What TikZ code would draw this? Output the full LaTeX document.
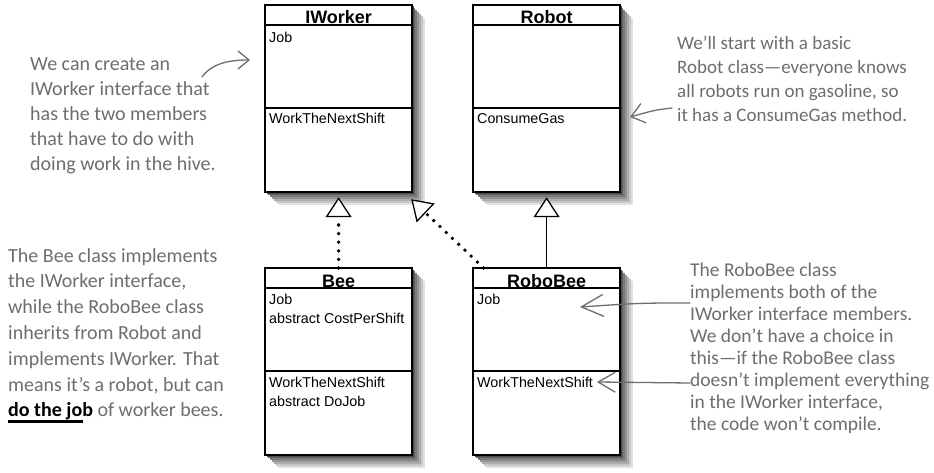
\documentclass[tikz,border=0pt]{standalone}
\usepackage{fontspec}
\setmainfont{Liberation Sans}
\newfontfamily\handfont{Carlito}
\usetikzlibrary{arrows.meta}

\definecolor{notegray}{RGB}{110,110,110}
\newcommand{\handunder}[1]{\setbox0\hbox{#1}\rlap{\rule[-6pt]{0.88\wd0}{2.4pt}}\box0}

\tikzset{
  umlbox/.style={draw, fill=white, line width=1.2pt, minimum width=146pt, minimum height=186pt,
    anchor=north west, inner sep=0pt},
  umltitle/.style={font=\fontsize{18}{20}\selectfont\bfseries, anchor=base, inner sep=0pt},
  umlmember/.style={font=\fontsize{14.3}{19}\selectfont, align=left, anchor=north west, inner sep=0pt},
  note/.style={font=\handfont\fontsize{20}{25}\selectfont, text=notegray, align=left,
    anchor=north west, inner sep=0pt},
  notearrow/.style={draw=notegray, line width=1.3pt, line cap=round},
  realize/.style={line width=3.8pt, dash pattern=on 0pt off 8.6pt, line cap=round,
    -{Triangle[open, fill=white, length=20pt, width=26pt, line width=1.3pt]}},
  inherit/.style={line width=1.7pt,
    -{Triangle[open, fill=white, length=20pt, width=26pt, line width=1.3pt]}}
}

\begin{document}
\begin{tikzpicture}[x=1pt, y=-1pt]
  \fill[white] (0,0) rectangle (934,473);

  % class boxes, with a soft shadow on the right and below
  \foreach \n/\px/\py/\t in {iworker/265/5/IWorker, robot/473/5/Robot,
                             bee/265/268/Bee, robobee/473/268/RoboBee}{
    \node[umlbox] (\n) at (\px,\py) {};
    \foreach \s/\g in {13/12, 11/22, 9/32, 7/42, 5/52, 3/62, 1.5/70}{
      \fill[black!\g!white] ([shift={(0pt,-\s pt)}]\n.north east) rectangle ([shift={(\s pt,-\s pt)}]\n.south east);
      \fill[black!\g!white] ([shift={(\s pt,0pt)}]\n.south west) rectangle ([shift={(\s pt,-\s pt)}]\n.south east);
    }
    \draw[line width=1.2pt] (\n.north west) rectangle (\n.south east);
    \draw[line width=1.2pt] ([yshift=-20pt]\n.north west) -- ([yshift=-20pt]\n.north east);
    \draw[line width=1.2pt] ([yshift=-103pt]\n.north west) -- ([yshift=-103pt]\n.north east);
    \node[umltitle] (\n-title) at ([yshift=-19pt]\n.north) {\t};
  }

  % members
  \node[umlmember] (iworker-fields) at ([shift={(4pt,-27pt)}]iworker.north west) {Job};
  \node[umlmember] (iworker-methods) at ([shift={(4pt,-108pt)}]iworker.north west) {WorkTheNextShift};
  \node[umlmember] (robot-methods) at ([shift={(4pt,-108pt)}]robot.north west) {ConsumeGas};
  \node[umlmember] (bee-fields) at ([shift={(4pt,-26pt)}]bee.north west) {Job\\abstract CostPerShift};
  \node[umlmember] (bee-methods) at ([shift={(4pt,-109pt)}]bee.north west) {WorkTheNextShift\\abstract DoJob};
  \node[umlmember] (robobee-fields) at ([shift={(4pt,-26pt)}]robobee.north west) {Job};
  \node[umlmember] (robobee-methods) at ([shift={(4pt,-109pt)}]robobee.north west) {WorkTheNextShift};

  % relations
  \draw[realize] (bee.north) -- ([yshift=-5pt]iworker.south);
  \draw[realize] ([xshift=-63pt]robobee.north) -- ([shift={(-1pt,-7pt)}]iworker.south east);
  \draw[inherit] (robobee.north) -- ([yshift=-5pt]robot.south);

  % notes
  \node[note] (iworker-note) at (30,57) {We can create an\\IWorker interface that\\has the two members\\that have to do with\\doing work in the hive.};
  \node[note, font=\handfont\fontsize{20}{25.8}\selectfont] (bee-note) at (8,248) {The Bee class implements\\the IWorker interface,\\while the RoboBee class\\inherits from Robot and\\implements IWorker. That\\means it’s a robot, but can\\\textcolor{black}{\bfseries\handunder{do the job}} of worker bees.};
  \node[note, font=\handfont\fontsize{19}{24}\selectfont] (robot-note) at (677,36) {We’ll start with a basic\\Robot class—everyone knows\\all robots run on gasoline, so\\it has a ConsumeGas method.};
  \node[note, font=\handfont\fontsize{19.5}{21.9}\selectfont] (robobee-note) at (690,263) {The RoboBee class\\implements both of the\\IWorker interface members.\\We don’t have a choice in\\this—if the RoboBee class\\doesn’t implement everything\\in the IWorker interface,\\the code won’t compile.};

  % note arrows
  \coordinate (iworker-from) at (202,77);
  \coordinate (iworker-to) at (250,60);
  \coordinate (robot-from) at (672,108);
  \coordinate (robot-to) at (630,117);
  \coordinate (job-from) at (690,303);
  \coordinate (job-to) at (580,307);
  \coordinate (shift-from) at (690,383);
  \coordinate (shift-to) at (597,382);
  \draw[notearrow, -{Straight Barb[length=11pt, width=18pt]}] (iworker-from) .. controls (212,63) and (230,60) .. (iworker-to);
  \draw[notearrow, -{Straight Barb[length=13pt, width=20pt]}] (robot-from) .. controls (655,110) .. (robot-to);
  \draw[notearrow, -{Straight Barb[length=22pt, width=22pt]}] (job-from) .. controls (640,303) .. (job-to);
  \draw[notearrow, -{Straight Barb[length=17pt, width=20pt]}] (shift-from) -- (shift-to);
\end{tikzpicture}
\end{document}
